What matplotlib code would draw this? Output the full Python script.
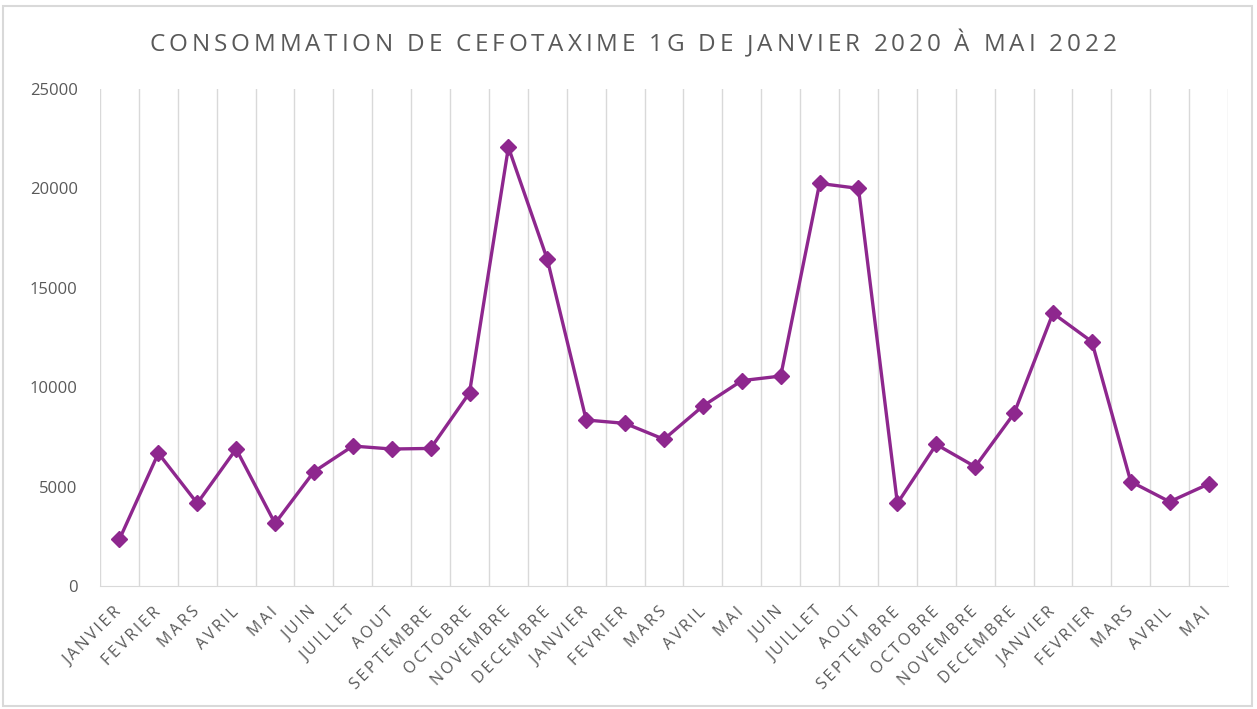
import matplotlib.pyplot as plt
from matplotlib.patches import Rectangle

months = ["JANVIER", "FEVRIER", "MARS", "AVRIL", "MAI", "JUIN", "JUILLET",
          "AOUT", "SEPTEMBRE", "OCTOBRE", "NOVEMBRE", "DECEMBRE"]
labels = months + months + months[:5]

# consommation mensuelle (unités)
conso = [2350, 6680, 4160, 6890, 3150, 5750, 7040, 6890, 6920, 9720,
         22070, 16430, 8350, 8180, 7380, 9050, 10330, 10560, 20250, 20000,
         4160, 7120, 6000, 8680, 13720, 12290, 5250, 4240, 5130]

title = "CONSOMMATION DE CEFOTAXIME 1G DE JANVIER 2020 À MAI 2022"

plt.rcParams['font.family'] = ['Open Sans', 'DejaVu Sans']
grey = '#595959'
purple = '#8E278E'


def spaced(s, sep='\u2009'):
    return sep.join(s)


fig = plt.figure(figsize=(12.57, 7.09), dpi=100)
ax = fig.add_axes([100 / 1257, 1 - 586 / 709, 1128 / 1257, 497 / 709])

x = list(range(len(conso)))
ax.plot(x, conso, color=purple, lw=2.4, marker='D', markersize=8,
        markerfacecolor=purple, markeredgecolor=purple, zorder=3)

ax.set_xlim(-0.5, len(conso) - 0.5)
ax.set_ylim(0, 25000)
ax.set_yticks(range(0, 25001, 5000))
ax.set_xticks(x)
ax.set_xticklabels([spaced(l) for l in labels], rotation=45, ha='right',
                   va='center', rotation_mode='anchor', fontsize=11.5,
                   color=grey)
ax.tick_params(axis='y', length=0, labelsize=12, colors=grey, pad=16)
ax.tick_params(axis='x', length=0, pad=17)

# lignes verticales entre les catégories
for b in range(len(conso) + 1):
    ax.axvline(b - 0.5, color='#D9D9D9', lw=1, zorder=1)

for s in ['top', 'right', 'left']:
    ax.spines[s].set_visible(False)
ax.spines['bottom'].set_color('#D9D9D9')

# titre avec espacement des lettres
renderer = fig.canvas.get_renderer()
tfs = 17.5
gap = 3.85
widths = []
for ch in title:
    t = fig.text(0, 0, ch if ch != ' ' else 'I', fontsize=tfs)
    w = t.get_window_extent(renderer).width
    if ch == ' ':
        w *= 0.9
    widths.append(w)
    t.remove()
total = sum(widths) + gap * (len(title) - 1)
xpos = 633 - total / 2
for ch, w in zip(title, widths):
    if ch != ' ':
        fig.text(xpos / 1257, 1 - 45 / 709, ch, ha='left', va='center',
                 fontsize=tfs, color=grey)
    xpos += w + gap

fig.patches.append(Rectangle((3 / 1257, 3 / 709), 1249 / 1257, 700 / 709,
                             transform=fig.transFigure, fill=False,
                             edgecolor='#D9D9D9', lw=1.5))

fig.savefig('out.png', dpi=100)
